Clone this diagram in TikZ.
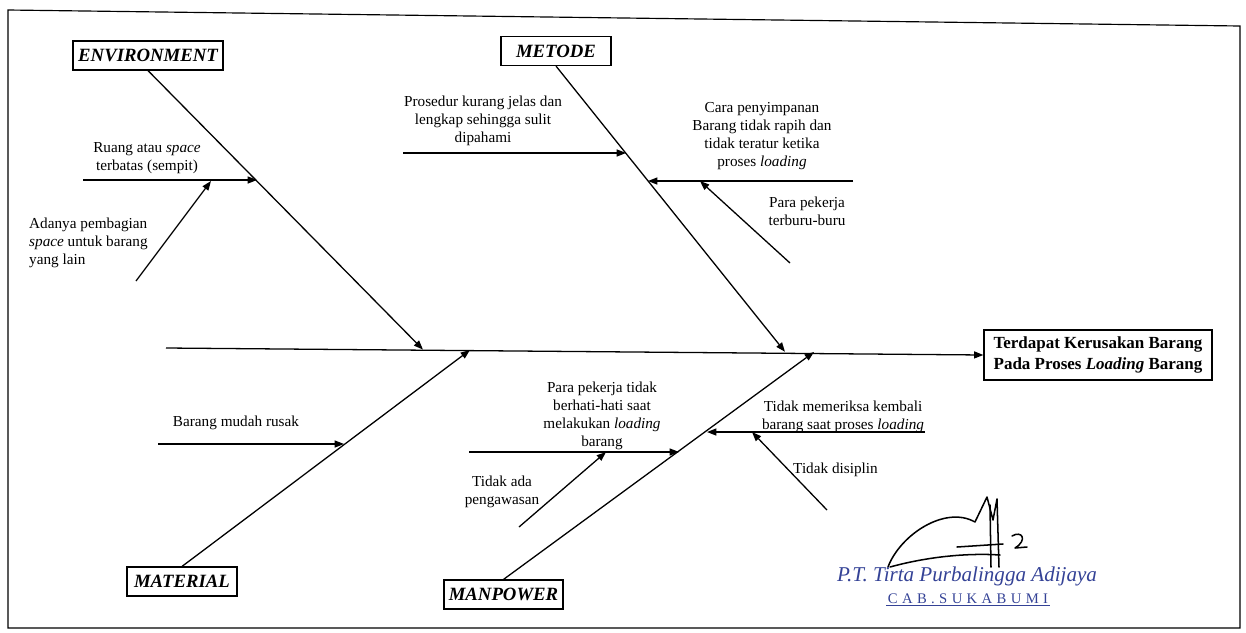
\documentclass[tikz,border=0pt]{standalone}
\usepackage{fontspec}
\setmainfont{Liberation Serif}
\usetikzlibrary{arrows.meta}

\definecolor{stampblue}{RGB}{52,66,150}

\begin{document}
\begin{tikzpicture}[x=0.03cm, y=-0.03cm,
    bone/.style={-{Triangle[length=2.8mm,width=2.1mm]}, line width=1.1pt},
    catbox/.style={draw, line width=1pt, minimum height=0.87cm, inner sep=2pt,
        font=\fontsize{16}{19}\selectfont\bfseries\itshape},
    cause/.style={align=center, inner sep=0pt, font=\fontsize{13}{15.4}\selectfont}]
    \useasboundingbox (0,0) rectangle (1246,632);

    % frame of the page
    \draw[line width=1pt] (8,10) -- (1240,26) -- (1240,628) -- (8,628) -- cycle;

    % head and category boxes
    \node (effect) [draw, line width=1pt, minimum width=6.84cm, minimum height=1.5cm,
        align=center, font=\fontsize{14.5}{18.5}\selectfont\bfseries] at (1098,355)
        {Terdapat Kerusakan Barang\\Pada Proses \textit{Loading} Barang};
    \node (env) [catbox, minimum width=4.5cm] at (148,55.5) {ENVIRONMENT};
    \node (met) [catbox, minimum width=3.3cm] at (556,51) {METODE};
    \node (mat) [catbox, minimum width=3.3cm] at (182,581.5) {MATERIAL};
    \node (man) [catbox, minimum width=3.57cm] at (503.5,594.5) {MANPOWER};

    % spine and where the bones meet it
    \coordinate (tail) at (166,348);
    \coordinate (envtip) at (423,349.6);
    \coordinate (mattip) at (470,350);
    \coordinate (mettip) at (785,351.8);
    \coordinate (mantip) at (814,352);
    \draw[bone] (tail) -- (effect.west);

    \draw[bone] (env.south) -- (envtip);
    \draw[bone] (met.south) -- (mettip);
    \draw[bone] (mat.north) -- (mattip);
    \draw[bone] (man.north) -- (mantip);

    % environment
    \coordinate (e1) at (83,180);
    \coordinate (e1tip) at (257,180);
    \coordinate (e2) at (136,281);
    \coordinate (e2tip) at (211,181);
    \draw[bone] (e1) -- (e1tip);
    \draw[bone] (e2) -- (e2tip);
    \node (envA) [cause] at (147,158) {Ruang atau \textit{space}\\terbatas (sempit)};
    \node (envB) [cause, align=left, anchor=west] at (29,243)
        {Adanya pembagian\\\textit{space} untuk barang\\yang lain};

    % metode
    \coordinate (m1) at (403,153);
    \coordinate (m1tip) at (626,153);
    \coordinate (m2) at (853,181);
    \coordinate (m2tip) at (648,181);
    \coordinate (m3) at (790,263);
    \coordinate (m3tip) at (700,181);
    \draw[bone] (m1) -- (m1tip);
    \draw[bone] (m2) -- (m2tip);
    \draw[bone] (m3) -- (m3tip);
    \node (metA) [cause] at (483,121)
        {Prosedur kurang jelas dan\\lengkap sehingga sulit\\dipahami};
    \node (metB) [cause] at (762,136)
        {Cara penyimpanan\\Barang tidak rapih dan\\tidak teratur ketika\\proses \textit{loading}};
    \node (metC) [cause] at (807,211) {Para pekerja\\terburu-buru};

    % material
    \coordinate (a1) at (158,444);
    \coordinate (a1tip) at (344,444);
    \draw[bone] (a1) -- (a1tip);
    \node (matA) [cause] at (236,423) {Barang mudah rusak};

    % manpower
    \coordinate (p1) at (469,452);
    \coordinate (p1tip) at (679,452);
    \coordinate (p2) at (519,527);
    \coordinate (p2tip) at (606,452);
    \coordinate (p3) at (925,432);
    \coordinate (p3tip) at (707,432);
    \coordinate (p4) at (827,510);
    \coordinate (p4tip) at (752,432);
    \draw[bone] (p1) -- (p1tip);
    \draw[bone] (p2) -- (p2tip);
    \draw[bone] (p3) -- (p3tip);
    \draw[bone] (p4) -- (p4tip);
    \node (manA) [cause] at (602,416)
        {Para pekerja tidak\\berhati-hati saat\\melakukan \textit{loading}\\barang};
    \node (manB) [cause] at (502,492) {Tidak ada\\pengawasan};
    \node (manC) [cause] at (843,417)
        {Tidak memeriksa kembali\\barang saat proses \textit{loading}};
    \node (manD) [cause, anchor=west] at (793,470) {Tidak disiplin};

    % signature and stamp
    \draw[line width=1.3pt, line cap=round, line join=round]
        (888,567) .. controls (900,535) and (945,505) .. (975,522)
        -- (987,497) -- (993,520) -- (997,499) -- (999,567);
    \draw[line width=1.3pt, line cap=round] (990,505) -- (991,567);
    \draw[line width=1.3pt, line cap=round]
        (890,567) .. controls (930,556) and (970,553) .. (1000,555);
    \draw[line width=1.3pt, line cap=round, line join=round]
        (957,547) -- (1003,544)
        (1012,536) .. controls (1022,530) and (1028,540) .. (1015,548) -- (1027,547);
    \node (stamp) [text=stampblue, font=\fontsize{18}{21}\selectfont\itshape]
        at (967,576) {P.T. Tirta Purbalingga Adijaya};
    \node (branch) [text=stampblue, inner sep=1pt,
        font=\fontsize{12.5}{15}\selectfont\addfontfeature{LetterSpace=30}]
        at (968,599) {CAB.SUKABUMI};
    \draw[stampblue, line width=0.6pt] (branch.south west) -- (branch.south east);
\end{tikzpicture}
\end{document}
